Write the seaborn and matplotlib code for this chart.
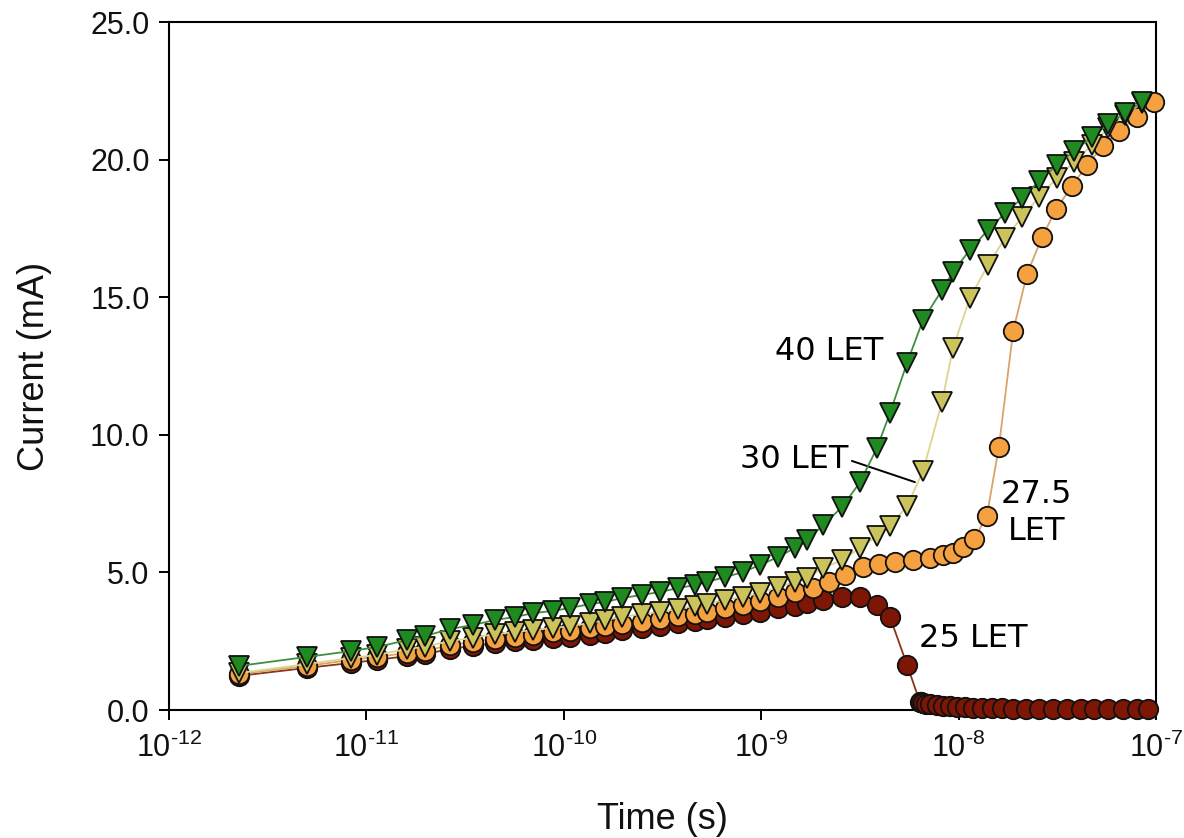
import matplotlib
matplotlib.use("Agg")
import matplotlib.pyplot as plt
import numpy as np
import pandas as pd
import seaborn as sns

# ---------------- data ----------------
# shared time grid (s) used by the 40 LET and 30 LET runs
t_grid = [2.26e-12, 5.0e-12, 8.36e-12, 1.13e-11, 1.61e-11, 1.98e-11, 2.65e-11, 3.47e-11,
          4.48e-11, 5.66e-11, 6.98e-11, 8.82e-11, 1.075e-10, 1.36e-10, 1.62e-10, 1.97e-10,
          2.49e-10, 3.07e-10, 3.79e-10, 4.62e-10, 5.31e-10, 6.55e-10, 8.09e-10, 9.86e-10,
          1.22e-9, 1.48e-9, 1.71e-9, 2.06e-9, 2.57e-9, 3.17e-9, 3.86e-9, 4.49e-9,
          5.48e-9, 6.60e-9, 8.24e-9, 9.37e-9, 1.14e-8, 1.41e-8, 1.72e-8, 2.10e-8,
          2.55e-8, 3.15e-8, 3.84e-8, 4.74e-8, 5.71e-8, 6.97e-8, 8.49e-8]

i_40 = [1.60, 1.93, 2.14, 2.29, 2.54, 2.69, 2.94, 3.09, 3.27, 3.38, 3.52, 3.60, 3.71, 3.85,
        3.92, 4.07, 4.18, 4.29, 4.43, 4.54, 4.65, 4.83, 5.01, 5.27, 5.56, 5.89, 6.18, 6.72,
        7.38, 8.28, 9.52, 10.79, 12.61, 14.17, 15.26, 15.92, 16.72, 17.44, 18.06, 18.60,
        19.22, 19.80, 20.31, 20.82, 21.29, 21.69, 22.09]

i_30 = [1.34, 1.67, 1.89, 2.00, 2.22, 2.29, 2.51, 2.62, 2.76, 2.83, 2.91, 2.98, 3.05, 3.16,
        3.27, 3.38, 3.49, 3.56, 3.67, 3.78, 3.85, 4.00, 4.11, 4.25, 4.47, 4.65, 4.80, 5.16,
        5.45, 5.89, 6.32, 6.69, 7.41, 8.68, 11.19, 13.15, 14.97, 16.17, 17.15, 17.91,
        18.64, 19.33, 19.91, 20.53, 21.15, 21.62, 22.06]

t_275 = [2.26e-12, 5.0e-12, 8.36e-12, 1.13e-11, 1.61e-11, 1.98e-11, 2.65e-11, 3.47e-11,
         4.48e-11, 5.66e-11, 6.98e-11, 8.82e-11, 1.075e-10, 1.36e-10, 1.62e-10, 1.97e-10,
         2.49e-10, 3.07e-10, 3.79e-10, 4.62e-10, 5.31e-10, 6.55e-10, 8.09e-10, 9.86e-10,
         1.22e-9, 1.48e-9, 1.83e-9, 2.21e-9, 2.66e-9, 3.28e-9, 3.95e-9, 4.76e-9,
         5.87e-9, 7.16e-9, 8.34e-9, 9.37e-9, 1.053e-8, 1.197e-8, 1.39e-8, 1.60e-8,
         1.89e-8, 2.22e-8, 2.65e-8, 3.12e-8, 3.75e-8, 4.47e-8, 5.39e-8, 6.50e-8,
         8.01e-8, 9.8e-8]
i_275 = [1.31, 1.60, 1.82, 1.93, 2.07, 2.14, 2.36, 2.47, 2.58, 2.65, 2.73, 2.83, 2.87, 2.98,
         3.05, 3.13, 3.20, 3.31, 3.42, 3.49, 3.56, 3.71, 3.82, 3.96, 4.11, 4.29,
         4.43, 4.65, 4.91, 5.20, 5.31, 5.38, 5.45, 5.52, 5.63, 5.70, 5.92, 6.21, 7.05, 9.56,
         13.77, 15.84, 17.19, 18.20, 19.04, 19.80, 20.49, 21.04, 21.55, 22.09]

t_25 = [2.26e-12, 5.0e-12, 8.36e-12, 1.13e-11, 1.61e-11, 1.98e-11, 2.65e-11, 3.47e-11,
        4.48e-11, 5.66e-11, 6.98e-11, 8.82e-11, 1.075e-10, 1.36e-10, 1.62e-10, 1.97e-10,
        2.49e-10, 3.07e-10, 3.79e-10, 4.62e-10, 5.31e-10, 6.55e-10, 8.09e-10, 9.86e-10,
        1.22e-9, 1.48e-9, 1.71e-9, 2.06e-9, 2.57e-9, 3.17e-9, 3.86e-9, 4.49e-9,
        5.48e-9, 6.37e-9, 6.48e-9, 6.60e-9, 6.84e-9, 7.16e-9, 7.77e-9, 8.34e-9, 9.04e-9,
        9.81e-9, 1.077e-8, 1.18e-8, 1.31e-8, 1.48e-8, 1.66e-8, 1.89e-8, 2.19e-8, 2.55e-8,
        3.01e-8, 3.54e-8, 4.17e-8, 4.85e-8, 5.71e-8, 6.80e-8, 8.01e-8, 9.11e-8]
i_25 = [1.24, 1.53, 1.71, 1.82, 1.96, 2.03, 2.22, 2.33, 2.43, 2.51, 2.54, 2.62, 2.65, 2.73,
        2.80, 2.91, 2.98, 3.05, 3.16, 3.23, 3.31, 3.38, 3.49, 3.56, 3.71, 3.78, 3.89, 4.00,
        4.11, 4.09, 3.82, 3.38, 1.64, 0.29, 0.28, 0.26, 0.23, 0.20, 0.17, 0.15, 0.13,
        0.11, 0.10, 0.09, 0.08, 0.07, 0.06, 0.05, 0.05, 0.04, 0.04, 0.03, 0.03, 0.03,
        0.02, 0.02, 0.02, 0.02]

x_ticks = [1e-12, 1e-11, 1e-10, 1e-9, 1e-8, 1e-7]
x_tick_labels = [r"$\mathregular{10^{\text{-}12}}$", r"$\mathregular{10^{\text{-}11}}$",
                 r"$\mathregular{10^{\text{-}10}}$", r"$\mathregular{10^{\text{-}9}}$",
                 r"$\mathregular{10^{\text{-}8}}$", r"$\mathregular{10^{\text{-}7}}$"]
y_ticks = [0, 5, 10, 15, 20, 25]
y_tick_labels = ["0.0", "5.0", "10.0", "15.0", "20.0", "25.0"]

# ---------------- style ----------------
sns.set_theme(style="ticks")
plt.rcParams["font.family"] = ["Liberation Sans", "DejaVu Sans"]
plt.rcParams["mathtext.fontset"] = "custom"
plt.rcParams["mathtext.rm"] = "Liberation Sans"
plt.rcParams["mathtext.it"] = "Liberation Sans:italic"
plt.rcParams["mathtext.bf"] = "Liberation Sans:bold"

fig = plt.figure(figsize=(11.84, 8.38), dpi=100)
ax = fig.add_axes([169 / 1184, 1 - 710 / 838, (1156 - 169) / 1184, (710 - 22) / 838])

series = [
    (t_25, i_25, "o", "#7d1604", "#8a3418", 3),
    (t_275, i_275, "o", "#f5a13f", "#d9a36a", 4),
    (t_grid, i_30, "v", "#cbc45c", "#dcd58e", 5),
    (t_grid, i_40, "v", "#1f8a1f", "#3f8f3f", 6),
]
for t, cur, mk, fc, lc, z in series:
    df = pd.DataFrame({"t": t, "I": cur})
    sns.lineplot(data=df, x="t", y="I", ax=ax, estimator=None, sort=False,
                 color=lc, linewidth=1.3, marker=mk, markersize=14,
                 markerfacecolor=fc, markeredgecolor="#111111", markeredgewidth=1.3,
                 zorder=z, clip_on=False)

ax.set_xscale("log")
ax.set_xlim(1e-12, 1e-7)
ax.set_ylim(0, 25)
ax.set_xticks(x_ticks)
ax.set_xticklabels(x_tick_labels)
ax.minorticks_off()
ax.set_yticks(y_ticks)
ax.set_yticklabels(y_tick_labels)
ax.tick_params(axis="both", direction="out", length=7, width=1.4, color="black",
               labelsize=22, labelcolor="#111111")
ax.tick_params(axis="x", pad=9)
ax.tick_params(axis="y", pad=7)
for s in ax.spines.values():
    s.set_visible(True)
    s.set_color("black")
    s.set_linewidth(1.5)

ax.set_xlabel("Time (s)", fontsize=26, labelpad=28, color="#111111")
ax.set_ylabel("Current (mA)", fontsize=26, labelpad=27, color="#111111")

# annotations
lab_font = dict(family="DejaVu Sans", fontsize=23, color="black")
ax.text(1.175e-9, 12.72, "40 LET", ha="left", va="baseline", **lab_font)
ax.text(7.81e-10, 8.79, "30 LET", ha="left", va="baseline", **lab_font)
ax.text(6.30e-9, 2.29, "25 LET", ha="left", va="baseline", **lab_font)
ax.text(2.49e-8, 7.52, "27.5", ha="center", va="baseline", **lab_font)
ax.text(2.49e-8, 6.18, "LET", ha="center", va="baseline", **lab_font)
ax.annotate("", xy=(6.01e-9, 8.28), xytext=(2.88e-9, 9.05),
            arrowprops=dict(arrowstyle="-", color="black", lw=1.4, shrinkA=0, shrinkB=0))

fig.savefig("out.png", dpi=100, facecolor="white")
